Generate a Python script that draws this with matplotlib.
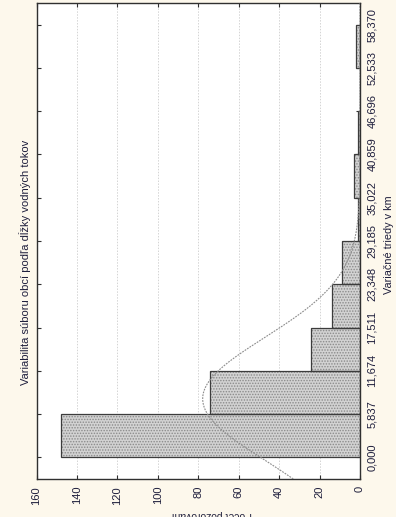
import numpy as np
import matplotlib
matplotlib.use("Agg")
import matplotlib.pyplot as plt

# Class boundaries (km) and the printed labels for them
bin_edges = [0.0, 5.837, 11.674, 17.511, 23.348, 29.185, 35.022,
             40.859, 46.696, 52.533, 58.370]
edge_labels = ["0,000", "5,837", "11,674", "17,511", "23,348", "29,185",
               "35,022", "40,859", "46,696", "52,533", "58,370"]
# Number of municipalities in each class
counts = [148, 74, 24, 14, 9, 1, 3, 1, 0, 2]
# Parameters of the fitted normal curve
fit_mean = 7.9
fit_sd = 8.26
value_ticks = [0, 20, 40, 60, 80, 100, 120, 140, 160]

title = "Variabilita súboru obcí podľa dĺžky vodných tokov"
class_label = "Variačné triedy v km"
count_label = "Počet pozorovaní"

plt.rcParams["font.family"] = ["Liberation Sans", "DejaVu Sans"]
plt.rcParams["hatch.linewidth"] = 0.7

W, H = 396, 517
bg = "#fdf8ec"
ink = "#1e1e3c"
fig = plt.figure(figsize=(W / 100, H / 100), dpi=100, facecolor=bg)
ax = fig.add_axes([36.5 / W, 38 / H, (360 - 36.5) / W, 476 / H])
ax.set_facecolor("white")

bw = bin_edges[1] - bin_edges[0]
lefts = np.array(bin_edges[:-1])

# stippled fill
ax.barh(lefts, counts, height=bw, align="edge", color="#d2d2d2",
        edgecolor="#8a8a8a", hatch="......", linewidth=0, zorder=2)
# outlines
ax.barh(lefts, counts, height=bw, align="edge", fill=False,
        edgecolor="#3c3c3c", linewidth=0.9, zorder=3)

lo, hi = bin_edges[0] - bw / 2, bin_edges[-1] + bw / 2
xs = np.linspace(lo, hi, 400)
n_total = sum(counts)
curve = n_total * bw / (fit_sd * np.sqrt(2 * np.pi)) * np.exp(-0.5 * ((xs - fit_mean) / fit_sd) ** 2)
ax.plot(curve, xs, color="#8c8c8c", linewidth=0.8, dashes=(1.6, 1.0), zorder=4)

ax.set_xlim(160, 0)
ax.set_ylim(lo, hi)

ax.set_xticks(value_ticks)
ax.set_xticklabels([str(v) for v in value_ticks])
ax.set_yticks(bin_edges)
ax.set_yticklabels(edge_labels)

ax.xaxis.set_ticks_position("both")
ax.yaxis.set_ticks_position("both")
ax.tick_params(axis="both", direction="in", length=3, width=0.8,
               color="#303030", labelsize=8, labelcolor=ink)
ax.tick_params(axis="x", labelbottom=True, labeltop=False, pad=5)
ax.tick_params(axis="y", labelleft=False, labelright=True, pad=5)
for lab in ax.get_xticklabels():
    lab.set_rotation(90)
    lab.set_ha("center")
    lab.set_va("top")
for lab in ax.get_yticklabels():
    lab.set_rotation(90)
    lab.set_ha("left")
    lab.set_va("center")

ax.grid(axis="x", color="#d4d4d4", linestyle=(0, (1.5, 1.5)), linewidth=0.7, zorder=0)
ax.set_axisbelow(True)
for s in ax.spines.values():
    s.set_color("#303030")
    s.set_linewidth(1.0)

fig.text(25 / W, 1 - 262 / H, title, rotation=90, ha="center", va="center",
         fontsize=8, color=ink)
fig.text(389 / W, 1 - 245 / H, class_label, rotation=90, ha="center", va="center",
         fontsize=7.8, color=ink)
fig.text(212 / W, 1 - 510 / H, count_label, rotation=180, ha="center", va="top",
         fontsize=7.5, color=ink)

fig.savefig("out.png", dpi=100, facecolor=bg)
